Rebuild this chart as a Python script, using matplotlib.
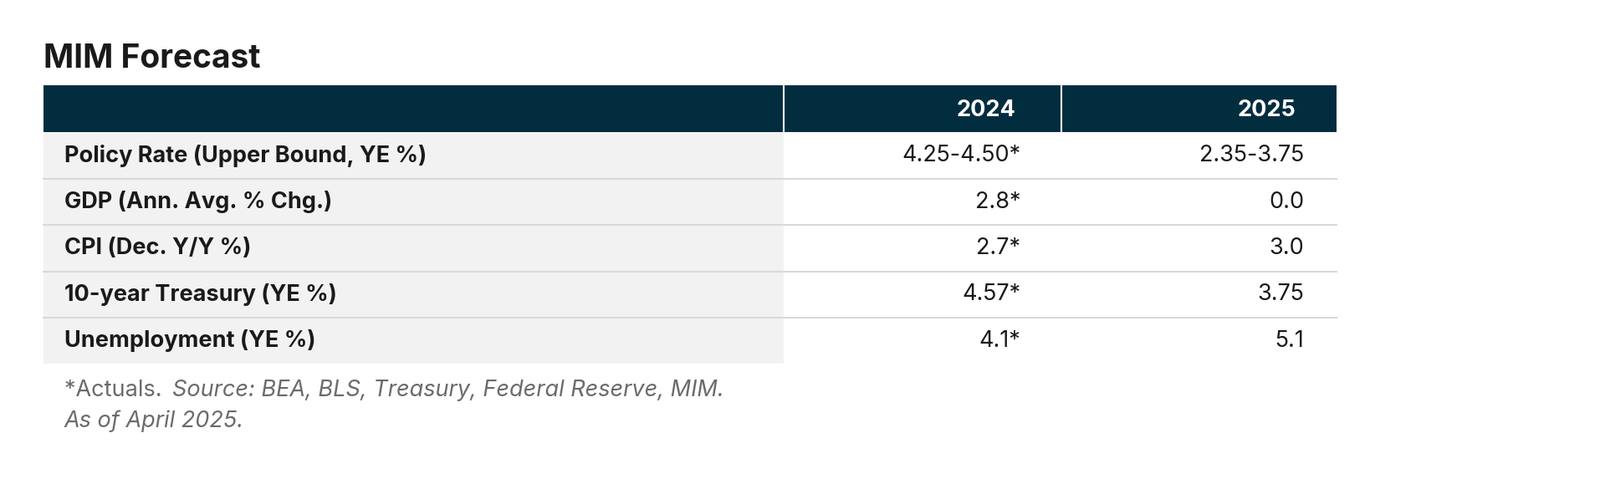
import matplotlib
matplotlib.use("Agg")
import matplotlib.pyplot as plt
from matplotlib.patches import Rectangle

title = "MIM Forecast"
years = ["2024", "2025"]
rows = ["Policy Rate (Upper Bound, YE %)", "GDP (Ann. Avg. % Chg.)", "CPI (Dec. Y/Y %)",
        "10-year Treasury (YE %)", "Unemployment (YE %)"]
vals_2024 = ["4.25-4.50*", "2.8*", "2.7*", "4.57*", "4.1*"]
vals_2025 = ["2.35-3.75", "0.0", "3.0", "3.75", "5.1"]

W, H = 1568, 470
fig = plt.figure(figsize=(19.13, 5.73), dpi=100)
ax = fig.add_axes([0, 0, 1, 1])
ax.set_xlim(0, W); ax.set_ylim(H, 0); ax.axis("off")
font = "Inter"
navy = "#022d3f"
fs = 19.5

ax.text(43, 58, title, fontsize=28, fontweight="bold", family=font, color="#1a1a1a", va="center")
ax.add_patch(Rectangle((43, 84), 1310 - 43, 46, color=navy, lw=0))
for x in (768, 1040):
    ax.plot([x, x], [84, 130], color="white", lw=1.5)
ax.text(995, 108, years[0], fontsize=fs, fontweight="bold", family=font, color="white", ha="right", va="center")
ax.text(1270, 108, years[1], fontsize=fs, fontweight="bold", family=font, color="white", ha="right", va="center")

rh = 45.4
for i, (r, a, b) in enumerate(zip(rows, vals_2024, vals_2025)):
    y0 = 130 + i * rh
    ax.add_patch(Rectangle((43, y0), 768 - 43, rh, color="#f2f2f2", lw=0))
    yc = y0 + rh / 2
    ax.text(63, yc, r, fontsize=fs, fontweight="bold", family=font, color="#1a1a1a", va="center")
    ax.text(1000, yc, a, fontsize=fs, family=font, color="#1a1a1a", ha="right", va="center")
    ax.text(1278, yc, b, fontsize=fs, family=font, color="#1a1a1a", ha="right", va="center")
    if i < len(rows) - 1:
        ax.plot([43, 1310], [y0 + rh, y0 + rh], color="#d9d9d9", lw=1.5)

t1 = ax.text(63, 383, "*Actuals. ", fontsize=fs, family=font, color="#6b6b6b", va="center")
fig.canvas.draw()
bb = t1.get_window_extent().transformed(ax.transData.inverted())
ax.text(bb.x1 + 4, 383, "Source: BEA, BLS, Treasury, Federal Reserve, MIM.", fontsize=fs, family=font,
        style="italic", color="#6b6b6b", va="center")
ax.text(63, 413, "As of April 2025.", fontsize=fs, family=font, style="italic", color="#6b6b6b", va="center")

fig.savefig("out.png", dpi=100, facecolor="white")
